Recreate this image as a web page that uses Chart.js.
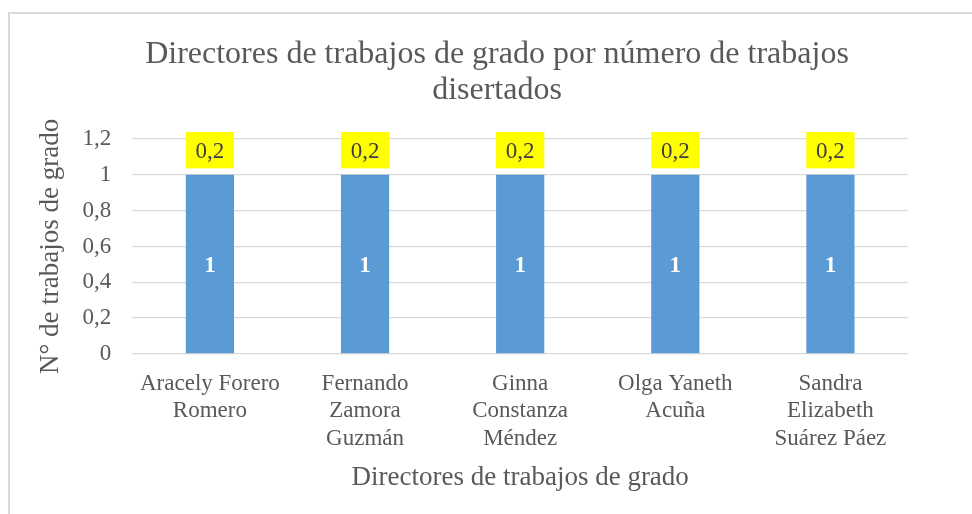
<!DOCTYPE html>
<html lang="es">
<head>
  <meta charset="UTF-8">
  <title>Directores de trabajos de grado</title>
  <script src="https://cdn.jsdelivr.net/npm/chart.js"></script>
  <style>
    body {
      margin: 0;
      background: #ffffff;
    }
    .frame {
      position: absolute;
      left: 8px;
      top: 12px;
      width: 964px;
      height: 502px;
      border-left: 2px solid #d9d9d9;
      border-top: 2px solid #d9d9d9;
      box-sizing: border-box;
    }
    .chart-box {
      position: absolute;
      left: 0;
      top: 0;
      width: 972px;
      height: 514px;
    }
  </style>
</head>
<body>
  <div class="frame"></div>
  <div class="chart-box">
    <canvas id="directoresChart"></canvas>
  </div>

  <script>
    // Datos del grafico
    const directores = [
      ['Aracely Forero', 'Romero'],
      ['Fernando', 'Zamora', 'Guzmán'],
      ['Ginna', 'Constanza', 'Méndez'],
      ['Olga Yaneth', 'Acuña'],
      ['Sandra', 'Elizabeth', 'Suárez Páez']
    ];
    const trabajos = [1, 1, 1, 1, 1];
    const proporcion = [0.2, 0.2, 0.2, 0.2, 0.2];
    const tituloLineas = ['Directores de trabajos de grado por número de trabajos', 'disertados'];

    const serif = "'Liberation Serif', 'Times New Roman', serif";
    const gris = '#595959';

    function coma(v) {
      return String(Math.round(v * 10) / 10).replace('.', ',');
    }

    // Titulo principal (dos lineas, centrado como en Excel)
    const tituloPlugin = {
      id: 'tituloExcel',
      afterDraw(chart) {
        const ctx = chart.ctx;
        ctx.save();
        ctx.font = '32px ' + serif;
        ctx.fillStyle = gris;
        ctx.textAlign = 'center';
        ctx.textBaseline = 'alphabetic';
        ctx.fillText(tituloLineas[0], 497, 63);
        ctx.fillText(tituloLineas[1], 497, 99);
        ctx.restore();
      }
    };

    // Etiquetas de datos: "1" dentro de la barra y "0,2" en recuadro amarillo
    const etiquetasPlugin = {
      id: 'etiquetas',
      afterDatasetsDraw(chart) {
        const ctx = chart.ctx;
        ctx.save();
        ctx.textAlign = 'center';
        ctx.textBaseline = 'middle';

        chart.getDatasetMeta(0).data.forEach((bar, i) => {
          ctx.font = 'bold 23px ' + serif;
          ctx.fillStyle = '#ffffff';
          ctx.fillText(coma(trabajos[i]), bar.x, (bar.y + bar.base) / 2 + 2);
        });

        chart.getDatasetMeta(1).data.forEach((bar, i) => {
          const w = bar.width;
          const top = bar.y - 7;
          const h = bar.base - bar.y + 0.5;
          ctx.fillStyle = '#ffff00';
          ctx.fillRect(bar.x - w / 2, top, w, h);
          ctx.font = '23px ' + serif;
          ctx.fillStyle = '#404040';
          ctx.fillText(coma(proporcion[i]), bar.x, top + h / 2 + 2);
        });
        ctx.restore();
      }
    };

    const directoresChart = new Chart(document.getElementById('directoresChart'), {
      type: 'bar',
      data: {
        labels: directores,
        datasets: [
          {
            label: 'Trabajos',
            data: trabajos,
            backgroundColor: '#5b9bd5',
            borderWidth: 0,
            categoryPercentage: 1,
            barPercentage: 0.311
          },
          {
            label: 'Proporción',
            data: proporcion,
            backgroundColor: 'rgba(0,0,0,0)',
            borderWidth: 0,
            categoryPercentage: 1,
            barPercentage: 0.311
          }
        ]
      },
      options: {
        responsive: true,
        maintainAspectRatio: false,
        animation: false,
        layout: {
          padding: { top: 139, left: 40, right: 64, bottom: 26 }
        },
        plugins: {
          legend: { display: false },
          tooltip: { enabled: false },
          title: { display: false }
        },
        scales: {
          x: {
            stacked: true,
            grid: { display: false },
            border: { display: false },
            ticks: {
              color: gris,
              font: { family: serif, size: 23, lineHeight: 1.2 },
              maxRotation: 0,
              autoSkip: false,
              padding: 8
            },
            title: {
              display: true,
              text: 'Directores de trabajos de grado',
              color: gris,
              font: { family: serif, size: 27, lineHeight: 0.75 },
              padding: { top: 7, bottom: 0 }
            }
          },
          y: {
            stacked: true,
            min: 0,
            max: 1.2,
            grid: { color: '#d9d9d9', lineWidth: 1.3, drawTicks: false },
            border: { display: false },
            ticks: {
              stepSize: 0.2,
              color: gris,
              font: { family: serif, size: 23 },
              padding: 21,
              callback: (v) => coma(v)
            },
            title: {
              display: true,
              text: 'N° de trabajos de grado',
              color: gris,
              font: { family: serif, size: 27, lineHeight: 0.8 },
              padding: { top: 0, bottom: 0 }
            }
          }
        }
      },
      plugins: [tituloPlugin, etiquetasPlugin]
    });
  </script>
</body>
</html>
